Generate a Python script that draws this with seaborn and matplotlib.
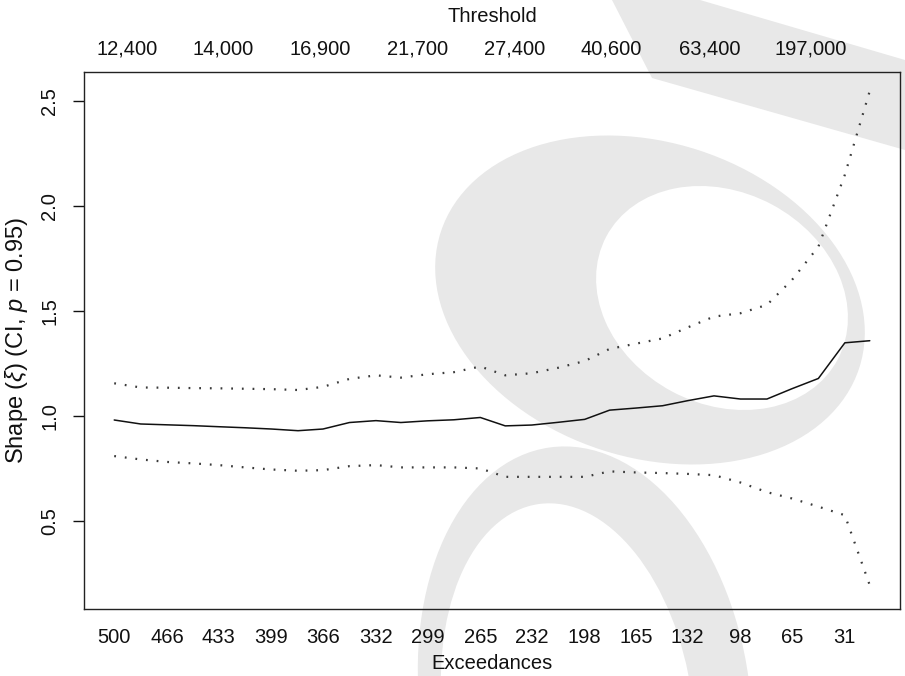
import numpy as np
import pandas as pd
import matplotlib
matplotlib.use("Agg")
import matplotlib.pyplot as plt
import seaborn as sns
from matplotlib.patches import Ellipse, Polygon

# ---- data ----
exceedances = [500, 483, 466, 449, 433, 416, 399, 382, 366, 349, 332, 316, 299, 282, 265,
               249, 232, 215, 198, 182, 165, 148, 132, 115, 98, 81, 65, 48, 31, 15]
shape_est = [0.981, 0.962, 0.958, 0.954, 0.949, 0.944, 0.938, 0.930, 0.938, 0.969,
             0.978, 0.969, 0.977, 0.982, 0.993, 0.953, 0.957, 0.970, 0.984, 1.028,
             1.038, 1.049, 1.073, 1.096, 1.081, 1.081, 1.130, 1.179, 1.349, 1.359]
ci_upper = [1.156, 1.136, 1.135, 1.133, 1.132, 1.130, 1.128, 1.124, 1.139, 1.177,
            1.194, 1.183, 1.199, 1.209, 1.236, 1.194, 1.204, 1.230, 1.262, 1.320,
            1.345, 1.370, 1.422, 1.474, 1.490, 1.530, 1.648, 1.807, 2.150, 2.550]
ci_lower = [0.809, 0.793, 0.781, 0.774, 0.766, 0.755, 0.745, 0.739, 0.742, 0.761,
            0.766, 0.755, 0.755, 0.755, 0.750, 0.710, 0.710, 0.710, 0.710, 0.736,
            0.731, 0.728, 0.724, 0.718, 0.683, 0.637, 0.607, 0.568, 0.527, 0.193]

bottom_ticks = [500, 466, 433, 399, 366, 332, 299, 265, 232, 198, 165, 132, 98, 65, 31]
top_tick_pos = [492, 430, 368, 305, 243, 181, 118, 53]
top_tick_labels = ["12,400", "14,000", "16,900", "21,700", "27,400", "40,600", "63,400", "197,000"]
y_ticks = [0.5, 1.0, 1.5, 2.0, 2.5]

df = pd.DataFrame({"exceed": exceedances, "est": shape_est,
                   "upper": ci_upper, "lower": ci_lower})

sns.set_theme(style="white")
plt.rcParams["font.family"] = ["Liberation Sans", "DejaVu Sans"]
plt.rcParams["mathtext.fontset"] = "custom"
plt.rcParams["mathtext.rm"] = "Liberation Sans"
plt.rcParams["mathtext.it"] = "Liberation Sans:italic"

FS = 14.5
W, H = 905, 676
fig = plt.figure(figsize=(W / 100, H / 100), dpi=100)
fig.patch.set_facecolor("white")

# ---- background watermark (figure pixel coordinates) ----
bg = fig.add_axes([0, 0, 1, 1], zorder=0)
bg.set_xlim(0, W)
bg.set_ylim(H, 0)
bg.axis("off")
wm = "#e8e8e8"
bg.add_patch(Polygon([(612, 0), (700, 0), (905, 60), (905, 150), (652, 78)],
                     closed=True, facecolor=wm, edgecolor="none"))
bg.add_patch(Ellipse((650, 300), 440, 315, angle=18, facecolor=wm, edgecolor="none"))
bg.add_patch(Ellipse((722, 298), 262, 212, angle=28, facecolor="white", edgecolor="none"))
bg.add_patch(Ellipse((585, 700), 330, 510, angle=-8, facecolor=wm, edgecolor="none"))
bg.add_patch(Ellipse((568, 712), 250, 420, angle=-8, facecolor="white", edgecolor="none"))

# ---- main axes ----
ax = fig.add_axes([84 / W, 1 - 609 / H, (900 - 84) / W, (609 - 72) / H], zorder=1)
ax.patch.set_alpha(0)

sns.lineplot(data=df, x="exceed", y="est", ax=ax, color="#111111", lw=1.1,
             sort=False, estimator=None)
sns.lineplot(data=df, x="exceed", y="upper", ax=ax, color="#3a3a3a", lw=1.6,
             sort=False, estimator=None, dashes=False, linestyle=(0, (0.8, 4.0)))
sns.lineplot(data=df, x="exceed", y="lower", ax=ax, color="#3a3a3a", lw=1.6,
             sort=False, estimator=None, dashes=False, linestyle=(0, (0.8, 4.0)))

ax.set_xlim(519.4, -4.4)
ax.set_ylim(0.08, 2.64)

for s in ax.spines.values():
    s.set_visible(True)
    s.set_color("#222222")
    s.set_linewidth(1.0)

ax.set_xticks(bottom_ticks)
ax.set_xticklabels([str(v) for v in bottom_ticks])
ax.tick_params(axis="x", bottom=True, length=0, pad=14, labelsize=FS, colors="#111111")
ax.set_yticks(y_ticks)
ax.set_yticklabels([f"{v:.1f}" for v in y_ticks], rotation=90, va="center")
ax.tick_params(axis="y", left=True, length=8, width=1.0, pad=10, labelsize=FS,
               colors="#111111")
ax.set_xlabel("Exceedances", fontsize=FS, labelpad=5, color="#111111")
ax.set_ylabel(r"Shape ($\xi$) (CI, $p$ = 0.95)", fontsize=17, labelpad=7,
              color="#111111")

top = ax.twiny()
top.set_xlim(ax.get_xlim())
top.set_xticks(top_tick_pos)
top.set_xticklabels(top_tick_labels)
top.tick_params(axis="x", top=True, length=0, pad=10, labelsize=FS, colors="#111111")
top.set_xlabel("Threshold", fontsize=FS, labelpad=12, color="#111111")
for s in top.spines.values():
    s.set_visible(False)
top.patch.set_alpha(0)

fig.savefig("out.png", dpi=100)
